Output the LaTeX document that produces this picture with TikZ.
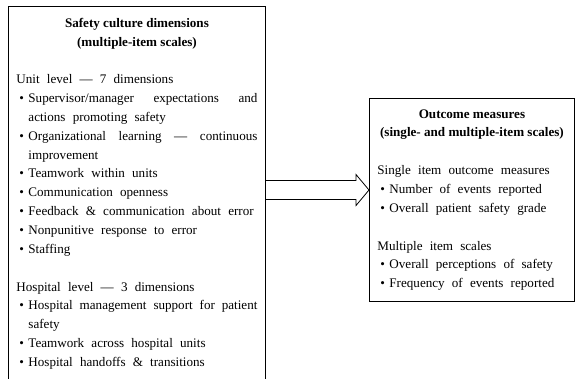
\documentclass[tikz,border=0pt]{standalone}
\usepackage{fontspec}
\setmainfont{Liberation Serif}[UprightFeatures={WordSpace={2.2,1.6,1.2}},BoldFeatures={WordSpace={1}}]
\usetikzlibrary{calc}

% bullet line with hanging indent, and a plain heading line
\newcommand{\bitem}[1]{\par\noindent\hangindent=12pt\hangafter=1\makebox[12pt][l]{\hspace{3pt}\textbullet}#1}
\newcommand{\bhead}[1]{\par\noindent #1}

\begin{document}
\begin{tikzpicture}[
        panel/.style={draw, line width=0.9pt, anchor=north west, inner xsep=8pt, align=justify,
            font=\fontsize{13.1}{18.85}\selectfont},
        hollow/.style={line width=0.8pt, line join=miter}
    ]
    \useasboundingbox (0,0) rectangle (576pt,378pt);
    \clip (0,0) rectangle (576pt,378pt);

    \node[panel, text width=241pt, inner ysep=11.5pt] (culture) at (8pt,372pt) {%
        {\centering\bfseries Safety culture dimensions\\(multiple-item scales)\par}
        \vspace{\baselineskip}
        \bhead{Unit level --- 7 dimensions}
        \bitem{Supervisor/manager expectations and\linebreak actions promoting safety}
        \bitem{Organizational learning --- continuous\linebreak improvement}
        \bitem{Teamwork within units}
        \bitem{Communication openness}
        \bitem{Feedback \& communication about error}
        \bitem{Nonpunitive response to error}
        \bitem{Staffing}
        \par\vspace{\baselineskip}
        \bhead{Hospital level --- 3 dimensions}
        \bitem{Hospital management support for patient\linebreak safety}
        \bitem{Teamwork across hospital units}
        \bitem{Hospital handoffs \& transitions}
        \par\vspace*{30pt}};

    \node[panel, text width=189pt, inner ysep=11pt] (outcome) at (369pt,280pt) {%
        {\centering\bfseries Outcome measures\\(single- and multiple-item scales)\par}
        \vspace{\baselineskip}
        \bhead{Single item outcome measures}
        \bitem{Number of events reported}
        \bitem{Overall patient safety grade}
        \par\vspace{\baselineskip}
        \bhead{Multiple item scales}
        \bitem{Overall perceptions of safety}
        \bitem{Frequency of events reported}\par\vspace*{3pt}};

    \coordinate (tip) at ([yshift=10pt]outcome.west);
    \path (tip) ++(-13pt,9.5pt) coordinate (shafttop)
          (tip) ++(-13pt,-9.5pt) coordinate (shaftbot);
    \draw[hollow] (culture.east |- shafttop) -- (shafttop) -- ([yshift=6pt]shafttop) -- (tip);
    \draw[hollow] (culture.east |- shaftbot) -- (shaftbot) -- ([yshift=-6pt]shaftbot) -- (tip);

\end{tikzpicture}
\end{document}
